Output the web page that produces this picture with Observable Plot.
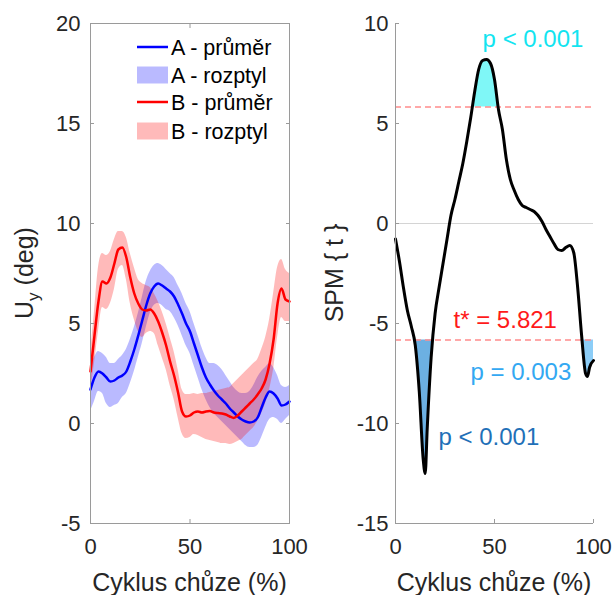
<!DOCTYPE html>
<html><head><meta charset="utf-8">
<script src="https://cdn.jsdelivr.net/npm/d3@7"></script>
<script src="https://cdn.jsdelivr.net/npm/@observablehq/plot@0.6"></script>
<style>
body{margin:0;background:#fff;}
#wrap{display:flex;width:616px;height:595px;background:#fff;}
#wrap svg{overflow:visible;}
</style></head><body><div id="wrap"></div>
<script>
// ---------- data ----------
const xPct = [0,2,4,6,8,10,12,14,16,18,20,22,24,26,28,30,32,34,36,38,40,42,44,46,48,50,52,54,56,58,60,62,64,66,68,70,72,74,76,78,80,82,84,86,88,90,92,94,96,98,100];
const aMean = [1.7,2.3,2.6,2.5,2.3,2.1,2.15,2.3,2.4,2.6,3.1,3.7,4.4,5.15,5.9,6.5,6.85,7.0,6.9,6.75,6.6,6.35,5.95,5.5,5.0,4.6,4.0,3.4,2.8,2.3,1.95,1.65,1.4,1.2,1.0,0.75,0.55,0.35,0.2,0.1,0.05,0.1,0.3,0.8,1.3,1.6,1.5,1.25,0.9,0.95,1.1];
const aLo = [0.6,1.1,1.6,1.5,1.0,0.8,0.9,1.0,1.3,1.5,2.0,2.6,3.3,4.0,4.8,5.5,5.9,6.0,5.9,5.7,5.6,5.3,4.9,4.4,3.9,3.5,2.9,2.3,1.7,1.2,0.8,0.5,0.3,0.1,-0.1,-0.3,-0.5,-0.7,-0.9,-1.1,-1.2,-1.2,-1.1,-0.7,-0.2,0.2,0.3,0.2,0.0,0.2,0.4];
const aHi = [2.9,3.3,3.6,3.5,3.3,3.0,3.0,3.2,3.4,3.7,4.2,4.8,5.5,6.3,7.1,7.6,7.9,8.0,7.9,7.7,7.5,7.3,6.9,6.5,6.0,5.6,5.0,4.4,3.8,3.3,3.0,3.0,2.9,2.7,2.4,2.1,1.8,1.6,1.5,1.5,1.6,1.9,2.3,2.6,2.8,3.0,2.8,2.4,1.9,1.8,1.9];
const bMean = [2.6,4.4,6.1,7.1,7.0,7.3,8.0,8.7,8.8,8.3,7.3,6.5,6.0,5.7,5.65,5.7,5.5,5.1,4.55,3.9,3.1,2.4,1.55,0.6,0.35,0.4,0.55,0.6,0.55,0.6,0.62,0.55,0.52,0.5,0.45,0.35,0.28,0.4,0.6,0.8,1.0,1.2,1.45,1.75,2.2,3.0,4.2,6.0,6.75,6.2,6.1];
const bLo = [1.6,3.0,4.6,5.8,5.7,6.0,6.7,7.7,7.9,7.2,6.0,5.2,4.6,4.3,4.5,4.6,4.5,3.9,3.3,2.7,1.9,1.2,0.3,-0.5,-0.75,-0.7,-0.55,-0.6,-0.7,-0.8,-0.85,-0.9,-0.95,-1.0,-1.0,-1.05,-1.0,-0.9,-0.8,-0.6,-0.4,-0.2,0.1,0.5,1.0,1.7,2.7,4.3,5.3,5.1,5.1];
const bHi = [3.4,5.6,7.8,8.5,8.4,8.6,9.2,9.6,9.6,9.3,8.5,7.8,7.2,7.0,6.9,6.8,6.5,6.1,5.6,5.0,4.3,3.6,2.7,1.7,1.45,1.45,1.5,1.45,1.5,1.5,1.55,1.6,1.65,1.7,1.75,1.8,2.0,2.2,2.4,2.6,2.8,3.0,3.2,3.7,4.3,5.2,6.5,7.8,8.2,7.7,7.5];

const spmX = [0,2,4,6,8,10,12,14,15,16,18,20,22,24,26,28,30,32,34,36,38,40,42,44,46,48,50,52,54,56,58,60,62,64,66,68,70,72,74,76,78,80,82,84,86,88,90,92,94,96,97,98,100];
const spmT = [-0.77,-1.9,-3.2,-4.35,-5.15,-6.1,-8.4,-11.8,-12.5,-10.3,-6.7,-4.5,-3.2,-2.0,-0.8,0.4,1.2,2.1,3.0,4.1,5.3,6.6,7.7,8.15,8.2,8.0,7.2,5.7,4.7,3.2,2.2,1.65,1.2,0.9,0.8,0.7,0.6,0.4,0.1,-0.3,-0.65,-1.0,-1.3,-1.35,-1.2,-1.1,-1.45,-3.2,-5.6,-7.5,-7.65,-7.2,-6.85];
const tStar = 5.821;

const xTicks = [0,50,100];
const leftYTicks = [-5,0,5,10,15,20];
const rightYTicks = [-15,-10,-5,0,5,10];
const legendLabels = ["A - průměr","A - rozptyl","B - průměr","B - rozptyl"];
const xLabel = "Cyklus chůze (%)";
const annText = ["p < 0.001","t* = 5.821","p = 0.003","p < 0.001"];
const annX = [44, 29.3, 37.9, 21.7];
const annY = [9.22, -4.85, -7.43, -10.7];

// ---------- styles ----------
const annColors = ["#12e4f0","#ff1a1a","#33a8f2","#1f70b8"];
const font = "'Liberation Sans', Arial, sans-serif";
const axisGray = "#9a9a9a";
const textCol = "#262626";

// ---------- left panel ----------
const leftData = xPct.map((x,i)=>({x, aM:aMean[i], aL:aLo[i], aH:aHi[i], bM:bMean[i], bL:bLo[i], bH:bHi[i]}));
const fmt = d => String(d);

const left = Plot.plot({
  width: 300, height: 595, marginLeft: 90, marginRight: 11, marginTop: 23, marginBottom: 72,
  style: {fontFamily: font, fontSize: "22px", color: textCol, background: "transparent", overflow: "visible"},
  x: {domain: [0,100]}, y: {domain: [-5,20]},
  marks: [
    Plot.areaY(leftData, {x:"x", y1:"aL", y2:"aH", fill:"#0000ff", fillOpacity:0.27, curve:"monotone-x"}),
    Plot.areaY(leftData, {x:"x", y1:"bL", y2:"bH", fill:"#ff0000", fillOpacity:0.27, curve:"monotone-x"}),
    Plot.line(leftData, {x:"x", y:"aM", stroke:"#0000ff", strokeWidth:2.5, curve:"monotone-x"}),
    Plot.line(leftData, {x:"x", y:"bM", stroke:"#ff0000", strokeWidth:2.5, curve:"monotone-x"}),
    Plot.frame({stroke: axisGray}),
    Plot.axisX({ticks:xTicks, anchor:"bottom", tickSize:-4, tickPadding:19, tickFormat:fmt, stroke:axisGray, fill:textCol, label:null}),
    Plot.axisX({ticks:xTicks, anchor:"top", tickSize:-4, tickFormat:()=>"", stroke:axisGray, label:null}),
    Plot.axisY({ticks:leftYTicks, anchor:"left", tickSize:-4, tickPadding:14, tickFormat:fmt, stroke:axisGray, fill:textCol, label:null}),
    Plot.axisY({ticks:leftYTicks, anchor:"right", tickSize:-4, tickFormat:()=>"", stroke:axisGray, label:null})
  ]
});

// ---------- right panel ----------
const spmData = spmX.map((x,i)=>({x, t: spmT[i]}));
function clusterPoints(thr, lo, hi) {
  const beyond = t => thr > 0 ? t > thr : t < thr;
  const pts = [];
  for (let i = 0; i < spmX.length; i++) {
    if (i > 0) {
      const a = spmT[i-1]-thr, b = spmT[i]-thr;
      if ((a < 0) !== (b < 0)) {
        const f = a/(a-b), xc = spmX[i-1] + f*(spmX[i]-spmX[i-1]);
        if (xc >= lo && xc <= hi) pts.push({x: xc, t: thr});
      }
    }
    if (spmX[i] >= lo && spmX[i] <= hi && beyond(spmT[i])) pts.push({x: spmX[i], t: spmT[i]});
  }
  return pts;
}
const cUp = clusterPoints(tStar, 30, 60);
const cLow = clusterPoints(-tStar, 0, 30);
const cEnd = clusterPoints(-tStar, 85, 100);
const ann = annText.map((s,i)=>({s, x: annX[i], y: annY[i], c: annColors[i]}));

const right = Plot.plot({
  width: 316, height: 595, marginLeft: 95, marginRight: 23, marginTop: 23, marginBottom: 72,
  style: {fontFamily: font, fontSize: "22px", color: textCol, background: "transparent", overflow: "visible"},
  x: {domain: [0,100]}, y: {domain: [-15,10]}, color: {type: "identity"},
  marks: [
    Plot.ruleY([0], {stroke: "#d4d4d4", strokeWidth: 1.2}),
    Plot.areaY(cUp, {x:"x", y1: () => tStar, y2:"t", fill:"#7ff7f7", curve:"monotone-x"}),
    Plot.areaY(cLow, {x:"x", y1: () => -tStar, y2:"t", fill:"#6cb0e2", curve:"monotone-x"}),
    Plot.areaY(cEnd, {x:"x", y1: () => -tStar, y2:"t", fill:"#8ccdf7", curve:"monotone-x"}),
    Plot.ruleY([tStar, -tStar], {stroke:"#ff8c8c", strokeWidth:1.5, strokeDasharray:"6,4"}),
    Plot.line(spmData, {x:"x", y:"t", stroke:"#000", strokeWidth:3, curve:"monotone-x"}),
    Plot.ruleX([0], {stroke: axisGray}),
    Plot.ruleY([-15], {stroke: axisGray}),
    Plot.axisX({ticks:xTicks, anchor:"bottom", tickSize:-4, tickPadding:19, tickFormat:fmt, stroke:axisGray, fill:textCol, label:null}),
    Plot.axisY({ticks:rightYTicks, anchor:"left", tickSize:-4, tickPadding:11, tickFormat:fmt, stroke:axisGray, fill:textCol, label:null}),
    Plot.text(ann, {x:"x", y:"y", text:"s", fill:"c", textAnchor:"start", fontSize:24})
  ]
});

const wrap = document.getElementById("wrap");
wrap.appendChild(left);
wrap.appendChild(right);

// ---------- axis titles & legend ----------
function svgOf(el){ return el.tagName.toLowerCase() === "svg" ? d3.select(el) : d3.select(el).select("svg"); }
const ls = svgOf(left), rs = svgOf(right);

ls.append("text").attr("x", 189.5).attr("y", 591).attr("text-anchor","middle")
  .attr("font-size", 25).attr("font-family", font).attr("fill", textCol).text(xLabel);
rs.append("text").attr("x", 194).attr("y", 591).attr("text-anchor","middle")
  .attr("font-size", 25).attr("font-family", font).attr("fill", textCol).text(xLabel);

const yl = ls.append("text").attr("transform","translate(33,273) rotate(-90)").attr("text-anchor","middle")
  .attr("font-size", 25).attr("font-family", font).attr("fill", textCol);
yl.append("tspan").text("U");
yl.append("tspan").attr("font-size", 17).attr("dy", 6).text("y");
yl.append("tspan").attr("dy", -6).text(" (deg)");

rs.append("text").attr("transform","translate(43,273) rotate(-90)").attr("text-anchor","middle")
  .attr("font-size", 25).attr("font-family", font).attr("fill", textCol).text("SPM { t }");

const lg = ls.append("g").attr("font-family", font).attr("font-size", 21.5).attr("fill", "#000")
  .attr("text-anchor", "start");
const rowY = [47, 75, 102, 131];
const kinds = ["line","patch","line","patch"];
const cols = ["#0000ff","#0000ff","#ff0000","#ff0000"];
legendLabels.forEach((lab, i) => {
  if (kinds[i] === "line") {
    lg.append("line").attr("x1",137).attr("x2",168).attr("y1",rowY[i]).attr("y2",rowY[i])
      .attr("stroke", cols[i]).attr("stroke-width", 2.5);
  } else {
    lg.append("rect").attr("x",137).attr("y",rowY[i]-8.5).attr("width",31).attr("height",17)
      .attr("fill", cols[i]).attr("fill-opacity", 0.27);
  }
  lg.append("text").attr("x", 171).attr("y", rowY[i] + 8).attr("text-anchor","start").text(lab);
});
</script>
</body></html>
